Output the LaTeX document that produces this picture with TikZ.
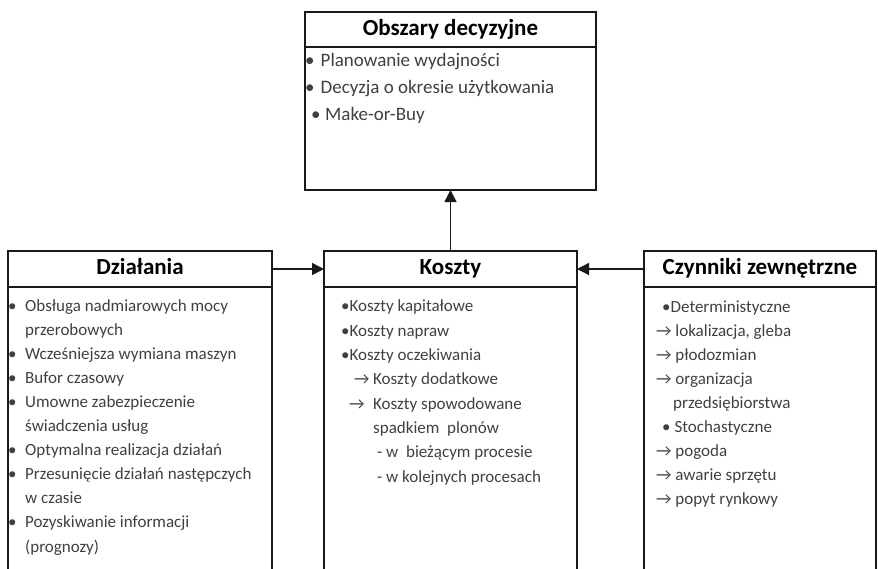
\documentclass[tikz,border=0pt]{standalone}
\usepackage{fontspec}
\setmainfont{Carlito}
\usetikzlibrary{arrows.meta,positioning}
\definecolor{Tekst}{HTML}{404040}
\definecolor{Ramka}{HTML}{1A1A1A}
% punktor i wciecie kolejnych wierszy listy
\newcommand{\pkt}{\makebox[17pt][l]{•}}
\newcommand{\wc}{\hspace*{17pt}}

\begin{document}
\begin{tikzpicture}[
  x=1pt,y=-1pt,
  naglowek/.style={draw=Ramka,line width=1.6pt,outer sep=0pt,inner sep=0pt,
    minimum height=36pt,text height=16pt,text depth=5pt,
    font=\fontsize{23}{25}\selectfont\bfseries},
  tresc/.style={draw=Ramka,line width=1.6pt,outer sep=0pt,inner sep=0pt},
  % kotwica base = linia bazowa ostatniego wiersza
  lista/.style={anchor=base west,align=left,inner sep=0pt,text=Tekst,
    font=\fontsize{17}{24.1}\selectfont},
  strzalka/.style={-{Triangle[length=12pt,width=12pt]},line width=1.4pt,draw=Ramka}
]
  \useasboundingbox (0,0) rectangle (878,568);

  % Obszary decyzyjne u gory
  \node[naglowek,minimum width=291pt,minimum height=35pt] (obszary) at (450.5,29.5) {Obszary decyzyjne};
  \node[tresc,minimum width=291pt,minimum height=143pt,below=0pt of obszary] (obszaryT) {};
  \node[lista,font=\fontsize{19}{27}\selectfont] (obszaryL) at (305,120.5)
    {\makebox[15.5pt][l]{•}Planowanie wydajności\\
     \makebox[15.5pt][l]{•}Decyzja o okresie użytkowania\\
     \hspace*{6pt}\makebox[14pt][l]{•}Make-or-Buy};

  % trzy kolumny w dolnym rzedzie
  \node[naglowek,minimum width=264pt] (dzialania) at (140,269) {Działania};
  \node[tresc,minimum width=264pt,minimum height=290pt,below=0pt of dzialania] (dzialaniaT) {};
  \node[lista] (dzialaniaL) at (8,552)
    {\pkt Obsługa nadmiarowych mocy\\
     \wc przerobowych\\
     \pkt Wcześniejsza wymiana maszyn\\
     \pkt Bufor czasowy\\
     \pkt Umowne zabezpieczenie\\
     \wc świadczenia usług\\
     \pkt Optymalna realizacja działań\\
     \pkt Przesunięcie działań następczych\\
     \wc w czasie\\
     \pkt Pozyskiwanie informacji\\
     \wc (prognozy)};

  \node[naglowek,minimum width=253pt] (koszty) at (450.5,269) {Koszty};
  \node[tresc,minimum width=253pt,minimum height=290pt,below=0pt of koszty] (kosztyT) {};
  \node[lista,font=\fontsize{17}{24.3}\selectfont] (kosztyL) at (341,482)
    {•Koszty kapitałowe\\
     •Koszty napraw\\
     •Koszty oczekiwania\\
     \hspace*{13pt}\makebox[19pt][l]{→}Koszty dodatkowe\\
     \hspace*{8pt}\makebox[24pt][l]{→}Koszty spowodowane\\
     \hspace*{32pt}spadkiem\ \ plonów\\
     \hspace*{36pt}- w\ \ bieżącym procesie\\
     \hspace*{36pt}- w kolejnych procesach};

  \node[naglowek,minimum width=232pt] (czynniki) at (760,269) {Czynniki zewnętrzne};
  \node[tresc,minimum width=232pt,minimum height=290pt,below=0pt of czynniki] (czynnikiT) {};
  \node[lista,font=\fontsize{17}{24}\selectfont] (czynnikiL) at (656,504)
    {\hspace*{6pt}•Deterministyczne\\
     → lokalizacja, gleba\\
     → płodozmian\\
     → organizacja\\
     \hspace*{17pt}przedsiębiorstwa\\
     \hspace*{6pt}• Stochastyczne\\
     → pogoda\\
     → awarie sprzętu\\
     → popyt rynkowy};

  % powiazania
  \draw[strzalka] (dzialania.east) -- (koszty.west);
  \draw[strzalka] (czynniki.west) -- (koszty.east);
  \draw[strzalka] (koszty.north) -- (obszaryT.south);
\end{tikzpicture}
\end{document}
